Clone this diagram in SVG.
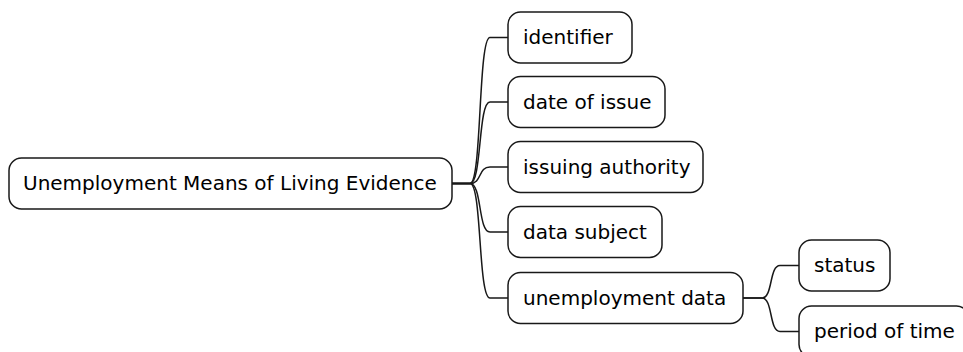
<svg xmlns="http://www.w3.org/2000/svg" width="963" height="352" viewBox="0 0 963 352">
<style>
.box{fill:#ffffff;stroke:#181818;stroke-width:1.5}
.lbl{font-family:"DejaVu Sans",sans-serif;font-size:20px;fill:#000000}
.edge{fill:none;stroke:#181818;stroke-width:1.5}
</style>
<rect width="963" height="352" fill="#ffffff"/>
<g id="connectors">
<path class="edge" d="M452,183.5 H470 C482,183.5 478,37.5 490,37.5 H508"/>
<path class="edge" d="M452,183.5 H470 C482,183.5 478,102 490,102 H508"/>
<path class="edge" d="M452,183.5 H470 C482,183.5 478,167 490,167 H508"/>
<path class="edge" d="M452,183.5 H470 C482,183.5 478,232 490,232 H508"/>
<path class="edge" d="M452,183.5 H470 C482,183.5 478,298 490,298 H508"/>
<path class="edge" d="M743,298 H762 C773,298 769,265.5 780,265.5 H799"/>
<path class="edge" d="M743,298 H762 C773,298 769,331.5 780,331.5 H799"/>
</g>
<g id="root">
<rect class="box" x="9" y="158" width="443" height="51" rx="12.5"/>
<text class="lbl" x="23" y="190">Unemployment Means of Living Evidence</text>
</g>
<g id="identifier">
<rect class="box" x="508" y="12" width="124" height="51" rx="12.5"/>
<text class="lbl" x="523" y="44">identifier</text>
</g>
<g id="date-of-issue">
<rect class="box" x="508" y="76.5" width="157" height="51" rx="12.5"/>
<text class="lbl" x="523" y="108.5">date of issue</text>
</g>
<g id="issuing-authority">
<rect class="box" x="508" y="141.5" width="195" height="51" rx="12.5"/>
<text class="lbl" x="523" y="173.5">issuing authority</text>
</g>
<g id="data-subject">
<rect class="box" x="508" y="206.5" width="154" height="51" rx="12.5"/>
<text class="lbl" x="523" y="238.5">data subject</text>
</g>
<g id="unemployment-data">
<rect class="box" x="508" y="272.5" width="235" height="51" rx="12.5"/>
<text class="lbl" x="523" y="304.5">unemployment data</text>
</g>
<g id="status">
<rect class="box" x="799" y="240" width="91" height="51" rx="12.5"/>
<text class="lbl" x="814" y="272">status</text>
</g>
<g id="period-of-time">
<rect class="box" x="799" y="306" width="170" height="51" rx="12.5"/>
<text class="lbl" x="814" y="338">period of time</text>
</g>
</svg>
